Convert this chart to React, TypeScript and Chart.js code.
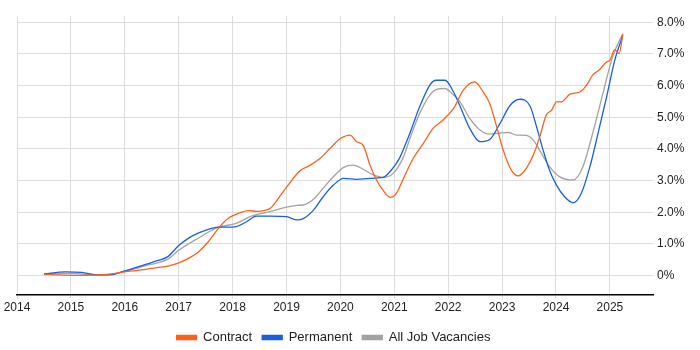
import React, { useEffect, useRef } from "react";
import { Chart, registerables } from "chart.js";

Chart.register(...registerables);

const contractX = [2014.5, 2014.8, 2015.0, 2015.3, 2015.6, 2015.8, 2016.0, 2016.2, 2016.4, 2016.6, 2016.8, 2017.0, 2017.2, 2017.36, 2017.55, 2017.74, 2017.92, 2018.1, 2018.3, 2018.45, 2018.6, 2018.7, 2018.87, 2019.03, 2019.25, 2019.44, 2019.62, 2019.81, 2020.0, 2020.18, 2020.3, 2020.42, 2020.55, 2020.67, 2020.79, 2020.92, 2021.04, 2021.17, 2021.35, 2021.54, 2021.72, 2021.9, 2022.1, 2022.28, 2022.49, 2022.65, 2022.77, 2022.9, 2023.02, 2023.17, 2023.3, 2023.45, 2023.58, 2023.7, 2023.82, 2023.92, 2024.01, 2024.1, 2024.26, 2024.44, 2024.57, 2024.68, 2024.81, 2024.94, 2025.0, 2025.09, 2025.17, 2025.24];
const contractY = [0.05, 0.02, 0.01, 0.01, 0.03, 0.06, 0.12, 0.16, 0.2, 0.25, 0.3, 0.4, 0.56, 0.74, 1.07, 1.5, 1.81, 1.96, 2.05, 2.03, 2.06, 2.13, 2.49, 2.86, 3.31, 3.49, 3.7, 4.02, 4.33, 4.44, 4.23, 4.12, 3.49, 3.02, 2.7, 2.47, 2.6, 3.07, 3.7, 4.18, 4.65, 4.91, 5.28, 5.86, 6.12, 5.8, 5.44, 4.7, 3.97, 3.33, 3.15, 3.39, 3.81, 4.39, 5.07, 5.23, 5.49, 5.49, 5.73, 5.8, 6.02, 6.33, 6.51, 6.75, 6.8, 7.14, 7.01, 7.62];

const permanentX = [2014.5, 2014.9, 2015.2, 2015.5, 2015.75, 2016.0, 2016.2, 2016.4, 2016.6, 2016.8, 2017.0, 2017.2, 2017.36, 2017.55, 2017.74, 2017.9, 2018.07, 2018.26, 2018.44, 2018.69, 2019.0, 2019.2, 2019.31, 2019.5, 2019.68, 2019.87, 2020.06, 2020.3, 2020.55, 2020.79, 2020.92, 2021.1, 2021.29, 2021.47, 2021.66, 2021.78, 2021.94, 2022.1, 2022.25, 2022.4, 2022.59, 2022.77, 2022.96, 2023.15, 2023.33, 2023.52, 2023.64, 2023.76, 2023.88, 2024.01, 2024.16, 2024.32, 2024.47, 2024.63, 2024.78, 2024.94, 2025.09, 2025.24];
const permanentY = [0.05, 0.12, 0.1, 0.02, 0.03, 0.15, 0.25, 0.36, 0.47, 0.6, 0.95, 1.2, 1.34, 1.46, 1.53, 1.53, 1.55, 1.7, 1.88, 1.88, 1.86, 1.76, 1.8, 2.07, 2.49, 2.86, 3.07, 3.04, 3.07, 3.1, 3.28, 3.72, 4.5, 5.33, 6.02, 6.17, 6.17, 5.8, 5.23, 4.65, 4.23, 4.3, 4.8, 5.38, 5.57, 5.35, 4.7, 3.97, 3.33, 2.86, 2.49, 2.3, 2.6, 3.44, 4.49, 5.65, 6.8, 7.59];

const allJobsX = [2014.5, 2014.8, 2015.1, 2015.5, 2015.75, 2016.0, 2016.2, 2016.4, 2016.6, 2016.8, 2017.0, 2017.2, 2017.36, 2017.55, 2017.74, 2018.07, 2018.35, 2018.69, 2019.0, 2019.2, 2019.31, 2019.5, 2019.68, 2019.87, 2020.06, 2020.24, 2020.42, 2020.61, 2020.79, 2020.98, 2021.17, 2021.29, 2021.47, 2021.66, 2021.78, 2021.94, 2022.06, 2022.22, 2022.4, 2022.59, 2022.77, 2023.0, 2023.11, 2023.27, 2023.45, 2023.58, 2023.73, 2023.88, 2024.07, 2024.32, 2024.5, 2024.68, 2024.87, 2025.05, 2025.24];
const allJobsY = [0.05, 0.07, 0.06, 0.02, 0.04, 0.14, 0.22, 0.32, 0.4, 0.52, 0.8, 1.02, 1.18, 1.37, 1.53, 1.65, 1.88, 2.02, 2.16, 2.22, 2.23, 2.41, 2.76, 3.12, 3.42, 3.49, 3.36, 3.18, 3.1, 3.23, 3.75, 4.33, 5.12, 5.7, 5.88, 5.91, 5.77, 5.49, 4.97, 4.6, 4.47, 4.51, 4.52, 4.44, 4.43, 4.28, 3.86, 3.44, 3.12, 3.02, 3.44, 4.49, 5.75, 6.91, 7.65];

const seriesNames = ["Contract", "Permanent", "All Job Vacancies"];
const seriesColors = ["#ff5f1a", "#1a5fe0", "#a3a3a3"];
const yearTicks = [2014, 2015, 2016, 2017, 2018, 2019, 2020, 2021, 2022, 2023, 2024, 2025];
const percentTicks = [0, 1, 2, 3, 4, 5, 6, 7, 8];

const toPoints = (xs: number[], ys: number[]) => xs.map((x, i) => ({ x, y: ys[i] }));

const legendShift = {
  id: "legendShift",
  afterLayout(chart: any) {
    const lg = chart.legend;
    if (!lg) return;
    lg.left -= 25;
    lg.right -= 25;
    lg.top += 4;
    lg.bottom += 4;
  },
};

export default function App() {
  const ref = useRef<HTMLCanvasElement | null>(null);

  useEffect(() => {
    document.body.style.margin = "0";
    const canvas = ref.current;
    if (!canvas) return;
    const seriesData = [
      toPoints(contractX, contractY),
      toPoints(permanentX, permanentY),
      toPoints(allJobsX, allJobsY),
    ];
    const font = "Arial, 'Liberation Sans', sans-serif";
    const chart = new Chart(canvas, {
      type: "line",
      data: {
        datasets: seriesNames.map((name, i) => ({
          label: name,
          data: seriesData[i],
          borderColor: seriesColors[i],
          backgroundColor: seriesColors[i],
          borderWidth: 1.3,
          pointRadius: 0,
          fill: false,
          cubicInterpolationMode: "monotone" as const,
          order: i === 2 ? 3 : i === 1 ? 2 : 1,
        })),
      },
      options: {
        animation: false,
        responsive: false,
        maintainAspectRatio: false,
        layout: { padding: { left: 17, top: 16, right: 0, bottom: 0 } },
        plugins: {
          tooltip: { enabled: false },
          legend: {
            position: "bottom",
            labels: {
              boxWidth: 20,
              boxHeight: 4,
              padding: 10,
              color: "#222",
              font: { family: font, size: 13 },
            },
          },
        },
        scales: {
          x: {
            type: "linear",
            min: 2014,
            max: 2025.8,
            afterBuildTicks: (scale: any) => {
              scale.ticks = yearTicks.map((v) => ({ value: v }));
            },
            ticks: {
              autoSkip: false,
              maxRotation: 0,
              padding: 2,
              color: "#222",
              font: { family: font, size: 12 },
              callback: (v: any) => String(v),
            },
            grid: { color: "#dddddd", tickLength: 4, drawOnChartArea: true },
            border: { color: "#000", width: 1.5 },
          },
          y: {
            type: "linear",
            position: "right",
            min: -0.6,
            max: 8.2,
            afterBuildTicks: (scale: any) => {
              scale.ticks = percentTicks.map((v) => ({ value: v }));
            },
            afterFit: (scale: any) => {
              scale.width = 47;
            },
            ticks: {
              padding: 4,
              color: "#222",
              font: { family: font, size: 12 },
              callback: (v: any) => (Number(v) === 0 ? "0%" : Number(v).toFixed(1) + "%"),
            },
            grid: { color: "#dddddd", drawTicks: false },
            border: { display: false },
          },
        },
      },
      plugins: [legendShift],
    });
    return () => chart.destroy();
  }, []);

  return (
    <div style={{ width: 700, height: 350 }}>
      <canvas ref={ref} width={700} height={350} style={{ width: 700, height: 350 }} />
    </div>
  );
}
